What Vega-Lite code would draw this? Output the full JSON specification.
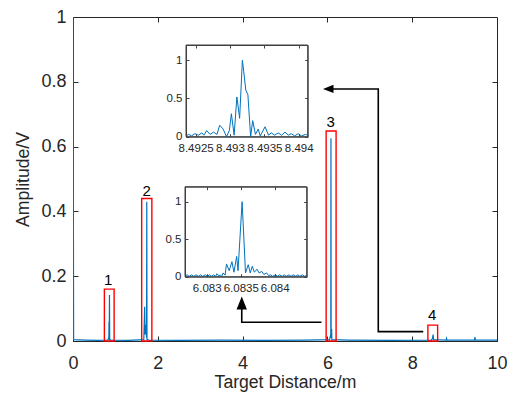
{
"$schema": "https://vega.github.io/schema/vega-lite/v6.json",
"width": 424, "height": 324,
"autosize": {"type": "none"},
"padding": {"left": 73, "top": 17, "right": 11, "bottom": 58},
"config": {
  "font": "Liberation Sans",
  "view": {"stroke": "#262626", "strokeWidth": 1},
  "axis": {"grid": false, "domainColor": "#262626", "tickColor": "#262626", "labelColor": "#262626", "titleColor": "#262626", "titleFontWeight": "normal", "labelFlush": false, "labelOverlap": false, "labelBound": false}
},
"datasets": {
  "main": [
    {"d":0,"a":1.0},{"d":0.015,"a":0.004},{"d":0.3,"a":0.003},{"d":0.6,"a":0.002},{"d":0.82,"a":0.003},
    {"d":0.845,"a":0.01},{"d":0.85,"a":0.06},{"d":0.855,"a":0.005},{"d":0.86,"a":0.142},{"d":0.865,"a":0.004},
    {"d":0.9,"a":0.003},{"d":1.3,"a":0.002},{"d":1.67,"a":0.004},{"d":1.69,"a":0.106},{"d":1.70,"a":0.02},
    {"d":1.72,"a":0.05},{"d":1.735,"a":0.01},{"d":1.74,"a":0.43},{"d":1.745,"a":0.005},{"d":1.78,"a":0.003},
    {"d":2.5,"a":0.002},{"d":3.5,"a":0.003},{"d":4.5,"a":0.002},{"d":5.5,"a":0.003},{"d":6.05,"a":0.004},
    {"d":6.08,"a":0.02},{"d":6.084,"a":0.626},{"d":6.088,"a":0.01},{"d":6.1,"a":0.037},{"d":6.105,"a":0.004},
    {"d":6.5,"a":0.003},{"d":7.5,"a":0.002},{"d":8.45,"a":0.003},{"d":8.48,"a":0.008},{"d":8.493,"a":0.02},
    {"d":8.505,"a":0.004},{"d":8.80,"a":0.003},{"d":8.81,"a":0.008},{"d":8.82,"a":0.003},{"d":9.47,"a":0.003},
    {"d":9.48,"a":0.012},{"d":9.49,"a":0.003},{"d":10,"a":0.003}
  ],
  "boxes": [
    {"d":0.74,"d2":0.97,"a":0,"a2":0.16},
    {"d":1.62,"d2":1.86,"a":0,"a2":0.44},
    {"d":5.97,"d2":6.205,"a":0,"a2":0.648},
    {"d":8.37,"d2":8.60,"a":0,"a2":0.049}
  ],
  "labels": [
    {"d":0.83,"a":0.188,"t":"1"},
    {"d":1.74,"a":0.463,"t":"2"},
    {"d":6.08,"a":0.677,"t":"3"},
    {"d":8.47,"a":0.079,"t":"4"}
  ],
  "arrows": [
    {"g":1,"o":1,"d":8.26,"a":0.029},{"g":1,"o":2,"d":7.20,"a":0.029},{"g":1,"o":3,"d":7.20,"a":0.778},{"g":1,"o":4,"d":6.1,"a":0.778},
    {"g":2,"o":1,"d":5.86,"a":0.058},{"g":2,"o":2,"d":3.98,"a":0.058},{"g":2,"o":3,"d":3.98,"a":0.10}
  ],
  "heads": [
    {"g":"left","d":6.02,"a":0.778},
    {"g":"up","d":3.98,"a":0.117}
  ],
  "frame1": [{"d":8.49236,"d2":8.49413,"a":0,"a2":1.2}],
  "frame2": [{"d":6.08268,"d2":6.08447,"a":0,"a2":1.2}],
  "inset1": [
    {"d":8.49236,"a":0.01},{"d":8.4924,"a":0.03},{"d":8.49244,"a":0.01},{"d":8.49249,"a":0.04},{"d":8.49254,"a":0.02},
    {"d":8.49259,"a":0.05},{"d":8.49262,"a":0.02},{"d":8.49266,"a":0.08},{"d":8.49271,"a":0.03},{"d":8.49276,"a":0.06},
    {"d":8.49281,"a":0.03},{"d":8.49285,"a":0.15},{"d":8.4929,"a":0.10},{"d":8.49295,"a":0.0},{"d":8.49299,"a":0.08},
    {"d":8.49302,"a":0.30},{"d":8.49306,"a":0.02},{"d":8.4931,"a":0.52},{"d":8.49314,"a":0.24},{"d":8.49318,"a":1.0},
    {"d":8.4932,"a":0.85},{"d":8.49323,"a":0.61},{"d":8.49326,"a":0.55},{"d":8.4933,"a":0.0},{"d":8.49333,"a":0.21},
    {"d":8.49337,"a":0.03},{"d":8.49341,"a":0.10},{"d":8.49344,"a":0.01},{"d":8.49351,"a":0.13},{"d":8.49356,"a":0.02},
    {"d":8.4936,"a":0.05},{"d":8.49365,"a":0.02},{"d":8.4937,"a":0.05},{"d":8.49375,"a":0.02},{"d":8.4938,"a":0.06},
    {"d":8.49385,"a":0.02},{"d":8.49389,"a":0.04},{"d":8.49394,"a":0.01},{"d":8.49399,"a":0.04},{"d":8.49404,"a":0.01},
    {"d":8.4941,"a":0.03},{"d":8.49413,"a":0.02}
  ],
  "inset2": [
    {"d":6.08268,"a":0.01},{"d":6.08271,"a":0.025},{"d":6.08274,"a":0.005},{"d":6.08278,"a":0.025},{"d":6.08281,"a":0.005},
    {"d":6.08284,"a":0.025},{"d":6.08288,"a":0.005},{"d":6.08291,"a":0.025},{"d":6.08294,"a":0.005},{"d":6.08298,"a":0.025},
    {"d":6.08301,"a":0.005},{"d":6.08304,"a":0.025},{"d":6.08307,"a":0.005},{"d":6.0831,"a":0.025},{"d":6.08313,"a":0.005},
    {"d":6.08315,"a":0.04},{"d":6.08318,"a":0.01},{"d":6.0832,"a":0.02},{"d":6.08322,"a":0.005},{"d":6.08324,"a":0.05},
    {"d":6.08327,"a":0.02},{"d":6.08329,"a":0.17},{"d":6.08333,"a":0.08},{"d":6.08337,"a":0.20},{"d":6.0834,"a":0.06},
    {"d":6.08344,"a":0.27},{"d":6.08346,"a":0.08},{"d":6.08352,"a":1.0},{"d":6.08357,"a":0.05},{"d":6.08361,"a":0.16},
    {"d":6.08364,"a":0.05},{"d":6.08367,"a":0.14},{"d":6.0837,"a":0.06},{"d":6.08374,"a":0.10},{"d":6.08377,"a":0.05},
    {"d":6.08381,"a":0.07},{"d":6.08384,"a":0.03},{"d":6.08388,"a":0.05},{"d":6.08391,"a":0.015},{"d":6.08394,"a":0.025},
    {"d":6.08397,"a":0.005},{"d":6.08401,"a":0.025},{"d":6.08404,"a":0.005},{"d":6.08407,"a":0.025},{"d":6.08411,"a":0.005},
    {"d":6.08414,"a":0.025},{"d":6.08417,"a":0.005},{"d":6.08421,"a":0.025},{"d":6.08424,"a":0.005},{"d":6.08427,"a":0.025},
    {"d":6.08431,"a":0.005},{"d":6.08434,"a":0.025},{"d":6.08437,"a":0.005},{"d":6.08441,"a":0.025},{"d":6.08444,"a":0.005},
    {"d":6.08447,"a":0.02}
  ]
},
"layer": [
  {
    "encoding": {
      "x": {"field": "d", "type": "quantitative", "scale": {"domain": [0, 10], "nice": false, "zero": false},
            "axis": {"orient": "bottom", "values": [0,2,4,6,8,10], "tickSize": -5, "labelFontSize": 18, "labelPadding": 18, "labelExpr": "''+datum.value", "title": "Target Distance/m", "titleFontSize": 17.6, "titlePadding": 1.5, "zindex": 0}},
      "y": {"field": "a", "type": "quantitative", "scale": {"domain": [0, 1], "nice": false, "zero": false},
            "axis": {"orient": "left", "values": [0,0.2,0.4,0.6,0.8,1], "tickSize": -5, "labelFontSize": 18, "labelPadding": 12, "labelExpr": "''+datum.value", "title": "Amplitude/V", "titleFontSize": 17.6, "titlePadding": 8, "zindex": 0}}
    },
    "layer": [
      {"data": {"name": "main"}, "mark": {"type": "line", "color": "#0072BD", "strokeWidth": 1.2, "clip": true}},
      {"data": {"name": "boxes"}, "mark": {"type": "rect", "fill": null, "stroke": "#FF0000", "strokeWidth": 1.4},
       "encoding": {"x2": {"field": "d2"}, "y2": {"field": "a2"}}},
      {"data": {"name": "labels"}, "mark": {"type": "text", "fontSize": 15, "color": "#000000", "baseline": "middle"},
       "encoding": {"text": {"field": "t"}}},
      {"data": {"name": "arrows"}, "mark": {"type": "line", "color": "#000000", "strokeWidth": 1.6},
       "encoding": {"detail": {"field": "g"}, "order": {"field": "o"}}},
      {"data": {"name": "heads"}, "transform": [{"filter": "datum.g == 'left'"}],
       "mark": {"type": "point", "shape": "M-1,0L1,-0.8L1,0.8Z", "filled": true, "color": "#000000", "opacity": 1, "size": 110, "strokeWidth": 0}},
      {"data": {"name": "heads"}, "transform": [{"filter": "datum.g == 'up'"}],
       "mark": {"type": "point", "shape": "M0,-1L0.8,1L-0.8,1Z", "filled": true, "color": "#000000", "opacity": 1, "size": 169, "strokeWidth": 0}}
    ]
  },
  {
    "data": {"name": "main"},
    "mark": {"type": "point", "opacity": 0},
    "encoding": {
      "x": {"field": "d", "type": "quantitative", "scale": {"domain": [0, 10], "nice": false, "zero": false},
            "axis": {"orient": "top", "values": [2,4,6,8], "tickSize": -5, "labels": false, "domain": false, "title": null}},
      "y": {"field": "a", "type": "quantitative", "scale": {"domain": [0, 1], "nice": false, "zero": false},
            "axis": {"orient": "right", "values": [0.2,0.4,0.6,0.8], "tickSize": -5, "labels": false, "domain": false, "title": null}}
    }
  },
  {
    "encoding": {
      "x": {"field": "d", "type": "quantitative", "scale": {"domain": [8.49236, 8.49413], "range": [113, 234.7], "nice": false, "zero": false},
            "axis": {"orient": "bottom", "offset": -204.3, "values": [8.4925, 8.493, 8.4935, 8.494], "tickSize": -3, "labelFontSize": 11.5, "labelPadding": 8.5, "labelExpr": "''+datum.value", "title": null, "domainColor": "#404040", "tickColor": "#404040", "zindex": 1}},
      "y": {"field": "a", "type": "quantitative", "scale": {"domain": [0, 1.2], "range": [119.7, 28], "nice": false, "zero": false},
            "axis": {"orient": "left", "offset": -113, "values": [0, 0.5, 1], "tickSize": -3, "labelFontSize": 11.5, "labelPadding": 7, "labelExpr": "''+datum.value", "title": null, "domainColor": "#404040", "tickColor": "#404040", "zindex": 1}}
    },
    "layer": [
      {"data": {"name": "frame1"}, "mark": {"type": "rect", "fill": "#ffffff", "stroke": "#404040", "strokeWidth": 1},
       "encoding": {"x2": {"field": "d2"}, "y2": {"field": "a2"}}},
      {"data": {"name": "inset1"}, "mark": {"type": "line", "color": "#0072BD", "strokeWidth": 1, "clip": true}}
    ]
  },
  {
    "data": {"name": "frame1"},
    "mark": {"type": "point", "opacity": 0},
    "encoding": {
      "x": {"field": "d", "type": "quantitative", "scale": {"domain": [8.49236, 8.49413], "range": [113, 234.7], "nice": false, "zero": false},
            "axis": {"orient": "top", "offset": -28, "values": [8.4925, 8.493, 8.4935, 8.494], "tickSize": -3, "labels": false, "title": null, "domainColor": "#404040", "tickColor": "#404040", "zindex": 1}},
      "y": {"field": "a", "type": "quantitative", "scale": {"domain": [0, 1.2], "range": [119.7, 28], "nice": false, "zero": false},
            "axis": {"orient": "right", "offset": -189.3, "values": [0, 0.5, 1], "tickSize": -3, "labels": false, "title": null, "domainColor": "#404040", "tickColor": "#404040", "zindex": 1}}
    }
  },
  {
    "encoding": {
      "x": {"field": "d", "type": "quantitative", "scale": {"domain": [6.08268, 6.08447], "range": [112, 233.7], "nice": false, "zero": false},
            "axis": {"orient": "bottom", "offset": -64.3, "values": [6.083, 6.0835, 6.084], "tickSize": -3, "labelFontSize": 11.5, "labelPadding": 8.5, "labelExpr": "''+datum.value", "title": null, "domainColor": "#404040", "tickColor": "#404040", "zindex": 1}},
      "y": {"field": "a", "type": "quantitative", "scale": {"domain": [0, 1.2], "range": [259.7, 169.7], "nice": false, "zero": false},
            "axis": {"orient": "left", "offset": -112, "values": [0, 0.5, 1], "tickSize": -3, "labelFontSize": 11.5, "labelPadding": 7, "labelExpr": "''+datum.value", "title": null, "domainColor": "#404040", "tickColor": "#404040", "zindex": 1}}
    },
    "layer": [
      {"data": {"name": "frame2"}, "mark": {"type": "rect", "fill": "#ffffff", "stroke": "#404040", "strokeWidth": 1},
       "encoding": {"x2": {"field": "d2"}, "y2": {"field": "a2"}}},
      {"data": {"name": "inset2"}, "mark": {"type": "line", "color": "#0072BD", "strokeWidth": 1, "clip": true}}
    ]
  },
  {
    "data": {"name": "frame2"},
    "mark": {"type": "point", "opacity": 0},
    "encoding": {
      "x": {"field": "d", "type": "quantitative", "scale": {"domain": [6.08268, 6.08447], "range": [112, 233.7], "nice": false, "zero": false},
            "axis": {"orient": "top", "offset": -169.7, "values": [6.083, 6.0835, 6.084], "tickSize": -3, "labels": false, "title": null, "domainColor": "#404040", "tickColor": "#404040", "zindex": 1}},
      "y": {"field": "a", "type": "quantitative", "scale": {"domain": [0, 1.2], "range": [259.7, 169.7], "nice": false, "zero": false},
            "axis": {"orient": "right", "offset": -190.3, "values": [0, 0.5, 1], "tickSize": -3, "labels": false, "title": null, "domainColor": "#404040", "tickColor": "#404040", "zindex": 1}}
    }
  }
],
"resolve": {"scale": {"x": "independent", "y": "independent"}, "axis": {"x": "independent", "y": "independent"}}
}
